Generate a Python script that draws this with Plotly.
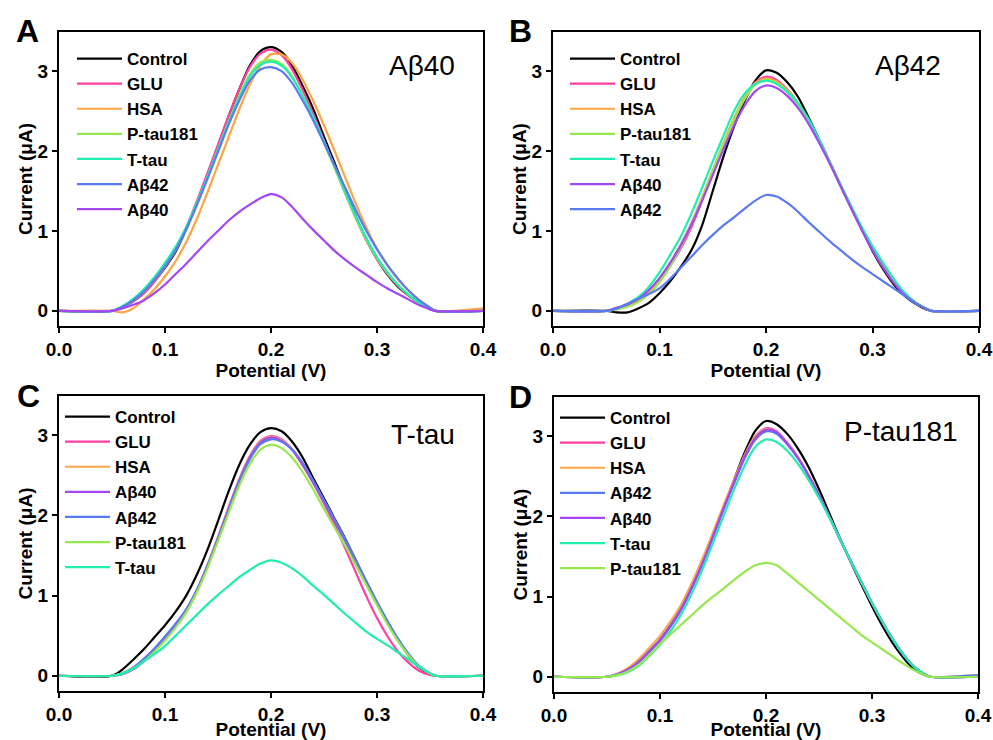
import plotly.graph_objects as go

# Potential (V) sampling grid shared by every curve
POTENTIAL = [0, 0.05, 0.06, 0.07, 0.08, 0.09, 0.10, 0.11, 0.12, 0.13, 0.14, 0.15, 0.16,
             0.17, 0.18, 0.19, 0.20, 0.21, 0.22, 0.23, 0.24, 0.25, 0.26, 0.27, 0.28,
             0.29, 0.30, 0.31, 0.32, 0.33, 0.34, 0.35, 0.355, 0.40]

# ---- Panel A (Aβ40 sensor), current in µA ----
A_CONTROL = [0, 0, 0.05, 0.12, 0.22, 0.37, 0.54, 0.74, 1.02, 1.35, 1.70, 2.06, 2.43, 2.77, 3.07, 3.25, 3.30,
             3.24, 3.07, 2.81, 2.52, 2.18, 1.85, 1.51, 1.18, 0.89, 0.65, 0.45, 0.30, 0.19, 0.10, 0.02, 0, 0]
A_GLU = [0, 0, 0.05, 0.12, 0.22, 0.37, 0.55, 0.76, 1.04, 1.37, 1.72, 2.08, 2.44, 2.77, 3.05, 3.22, 3.27,
         3.20, 3.02, 2.76, 2.46, 2.13, 1.80, 1.47, 1.16, 0.88, 0.65, 0.46, 0.31, 0.19, 0.10, 0.03, 0, 0]
A_HSA = [0, 0, -0.02, 0.03, 0.14, 0.27, 0.43, 0.62, 0.86, 1.15, 1.48, 1.83, 2.17, 2.52, 2.83, 3.07, 3.21,
         3.21, 3.10, 2.89, 2.62, 2.32, 2.00, 1.67, 1.34, 1.04, 0.78, 0.57, 0.39, 0.25, 0.13, 0.04, 0, 0.03]
A_PTAU = [0, 0, 0.05, 0.13, 0.24, 0.39, 0.56, 0.76, 1.02, 1.33, 1.67, 2.02, 2.37, 2.69, 2.96, 3.11, 3.14,
          3.09, 2.93, 2.69, 2.41, 2.10, 1.79, 1.47, 1.16, 0.89, 0.66, 0.47, 0.32, 0.20, 0.10, 0.03, 0, 0]
A_TTAU = [0, 0, 0.06, 0.15, 0.27, 0.42, 0.60, 0.80, 1.05, 1.35, 1.68, 2.02, 2.36, 2.67, 2.93, 3.08, 3.12,
          3.07, 2.92, 2.69, 2.42, 2.12, 1.81, 1.49, 1.18, 0.91, 0.67, 0.48, 0.32, 0.20, 0.10, 0.03, 0, 0]
A_AB42 = [0, 0, 0.05, 0.13, 0.24, 0.39, 0.56, 0.76, 1.02, 1.32, 1.65, 1.99, 2.33, 2.63, 2.88, 3.02, 3.05,
          3.00, 2.85, 2.63, 2.38, 2.10, 1.82, 1.54, 1.26, 1.00, 0.77, 0.57, 0.40, 0.25, 0.13, 0.04, 0, 0]
A_AB40 = [0, 0, 0.03, 0.075, 0.13, 0.22, 0.33, 0.46, 0.59, 0.73, 0.87, 1.00, 1.13, 1.24, 1.33, 1.41, 1.46,
          1.42, 1.30, 1.15, 1.01, 0.88, 0.75, 0.64, 0.54, 0.45, 0.36, 0.28, 0.21, 0.14, 0.07, 0.02, 0, 0]

# ---- Panel B (Aβ42 sensor) ----
B_CONTROL = [0, 0, -0.02, -0.02, 0.03, 0.10, 0.22, 0.37, 0.55, 0.76, 1.07, 1.50, 1.93, 2.31, 2.63, 2.88, 3.01,
             2.98, 2.86, 2.68, 2.42, 2.14, 1.86, 1.57, 1.30, 1.02, 0.75, 0.52, 0.33, 0.19, 0.09, 0.02, 0, 0]
B_GLU = [0, 0, 0.02, 0.06, 0.12, 0.22, 0.37, 0.56, 0.78, 1.05, 1.38, 1.73, 2.08, 2.40, 2.67, 2.86, 2.93,
         2.89, 2.77, 2.60, 2.38, 2.12, 1.85, 1.57, 1.29, 1.02, 0.77, 0.55, 0.36, 0.21, 0.10, 0.03, 0, 0]
B_HSA = [0, 0, 0.03, 0.07, 0.14, 0.25, 0.40, 0.60, 0.83, 1.10, 1.42, 1.76, 2.10, 2.41, 2.67, 2.85, 2.91,
         2.87, 2.76, 2.59, 2.38, 2.13, 1.86, 1.58, 1.30, 1.03, 0.79, 0.57, 0.38, 0.22, 0.11, 0.03, 0, 0]
B_PTAU = [0, 0, 0.02, 0.05, 0.11, 0.21, 0.36, 0.56, 0.80, 1.08, 1.40, 1.74, 2.08, 2.39, 2.65, 2.83, 2.89,
          2.85, 2.74, 2.57, 2.36, 2.11, 1.84, 1.56, 1.28, 1.01, 0.77, 0.55, 0.36, 0.21, 0.10, 0.03, 0, 0]
B_TTAU = [0, 0, 0.03, 0.09, 0.17, 0.30, 0.48, 0.70, 0.93, 1.22, 1.54, 1.87, 2.19, 2.50, 2.72, 2.84, 2.88,
          2.84, 2.74, 2.60, 2.40, 2.14, 1.86, 1.58, 1.31, 1.05, 0.81, 0.60, 0.40, 0.23, 0.11, 0.03, 0, 0]
B_AB40 = [0, 0, 0.04, 0.08, 0.15, 0.26, 0.41, 0.60, 0.82, 1.08, 1.38, 1.70, 2.02, 2.32, 2.57, 2.75, 2.82,
          2.79, 2.69, 2.54, 2.34, 2.10, 1.84, 1.56, 1.28, 1.01, 0.76, 0.54, 0.35, 0.20, 0.10, 0.03, 0, 0]
B_AB42 = [0, 0, 0.03, 0.09, 0.15, 0.21, 0.28, 0.40, 0.54, 0.68, 0.82, 0.95, 1.07, 1.17, 1.28, 1.38, 1.45,
          1.43, 1.35, 1.24, 1.11, 0.99, 0.87, 0.76, 0.65, 0.55, 0.46, 0.37, 0.28, 0.19, 0.10, 0.03, 0, 0]

# ---- Panel C (T-tau sensor) ----
C_CONTROL = [0, 0, 0.08, 0.20, 0.33, 0.48, 0.63, 0.80, 1.00, 1.26, 1.57, 1.93, 2.30, 2.63, 2.88, 3.04, 3.09,
             3.05, 2.92, 2.72, 2.46, 2.21, 1.96, 1.71, 1.44, 1.17, 0.91, 0.67, 0.44, 0.25, 0.10, 0.02, 0, 0]
C_GLU = [0, 0, 0.03, 0.10, 0.20, 0.33, 0.48, 0.64, 0.82, 1.07, 1.38, 1.73, 2.10, 2.45, 2.74, 2.93, 2.99,
         2.95, 2.82, 2.62, 2.40, 2.15, 1.88, 1.59, 1.29, 0.99, 0.72, 0.49, 0.30, 0.16, 0.06, 0.01, 0, 0]
C_HSA = [0, 0, 0.03, 0.10, 0.20, 0.33, 0.47, 0.63, 0.81, 1.06, 1.37, 1.72, 2.09, 2.44, 2.73, 2.92, 2.98,
         2.94, 2.83, 2.65, 2.42, 2.18, 1.94, 1.69, 1.43, 1.17, 0.91, 0.67, 0.45, 0.26, 0.11, 0.03, 0, 0]
C_AB40 = [0, 0, 0.02, 0.08, 0.18, 0.31, 0.46, 0.62, 0.80, 1.05, 1.36, 1.71, 2.08, 2.43, 2.72, 2.91, 2.97,
          2.93, 2.82, 2.64, 2.41, 2.17, 1.93, 1.68, 1.42, 1.16, 0.90, 0.66, 0.44, 0.25, 0.11, 0.03, 0, 0]
C_AB42 = [0, 0, 0.03, 0.10, 0.21, 0.34, 0.49, 0.65, 0.83, 1.07, 1.37, 1.71, 2.07, 2.42, 2.70, 2.89, 2.95,
          2.92, 2.82, 2.65, 2.43, 2.19, 1.95, 1.70, 1.44, 1.18, 0.92, 0.68, 0.46, 0.27, 0.12, 0.03, 0, 0]
C_PTAU = [0, 0, 0.03, 0.09, 0.18, 0.30, 0.44, 0.60, 0.79, 1.04, 1.34, 1.68, 2.03, 2.37, 2.64, 2.82, 2.88,
          2.84, 2.72, 2.54, 2.32, 2.08, 1.85, 1.62, 1.38, 1.13, 0.88, 0.64, 0.43, 0.25, 0.11, 0.03, 0, 0]
C_TTAU = [0, 0, 0.03, 0.09, 0.18, 0.27, 0.37, 0.50, 0.63, 0.76, 0.89, 1.01, 1.12, 1.23, 1.32, 1.40, 1.44,
          1.41, 1.34, 1.24, 1.12, 1.01, 0.89, 0.77, 0.66, 0.55, 0.46, 0.38, 0.29, 0.20, 0.11, 0.03, 0, 0]

# ---- Panel D (P-tau181 sensor) ----
D_CONTROL = [0, 0, 0.03, 0.09, 0.19, 0.32, 0.46, 0.64, 0.85, 1.12, 1.42, 1.76, 2.11, 2.46, 2.80, 3.07, 3.19,
             3.15, 3.03, 2.85, 2.62, 2.34, 2.03, 1.72, 1.43, 1.15, 0.88, 0.63, 0.41, 0.23, 0.09, 0.02, 0, 0]
D_GLU = [0, 0, 0.03, 0.09, 0.19, 0.32, 0.46, 0.64, 0.85, 1.12, 1.42, 1.76, 2.11, 2.44, 2.76, 3.00, 3.10,
         3.06, 2.92, 2.74, 2.52, 2.27, 1.99, 1.71, 1.44, 1.18, 0.92, 0.68, 0.46, 0.27, 0.12, 0.03, 0, 0]
D_HSA = [0, 0, 0.04, 0.11, 0.22, 0.36, 0.51, 0.69, 0.90, 1.17, 1.47, 1.80, 2.14, 2.46, 2.77, 3.00, 3.09,
         3.05, 2.92, 2.74, 2.52, 2.27, 1.99, 1.71, 1.44, 1.18, 0.92, 0.68, 0.46, 0.27, 0.12, 0.03, 0, 0.02]
D_AB42 = [0, 0, 0.03, 0.09, 0.19, 0.32, 0.46, 0.64, 0.85, 1.11, 1.41, 1.74, 2.09, 2.42, 2.73, 2.96, 3.06,
          3.03, 2.90, 2.73, 2.51, 2.26, 1.99, 1.71, 1.44, 1.18, 0.92, 0.68, 0.46, 0.27, 0.12, 0.03, 0, 0.02]
D_AB40 = [0, 0, 0.03, 0.09, 0.18, 0.31, 0.45, 0.63, 0.84, 1.11, 1.41, 1.75, 2.10, 2.43, 2.75, 2.98, 3.08,
          3.05, 2.91, 2.73, 2.51, 2.26, 1.99, 1.71, 1.44, 1.18, 0.92, 0.68, 0.46, 0.27, 0.12, 0.03, 0, 0]
D_TTAU = [0, 0, 0.02, 0.06, 0.14, 0.26, 0.40, 0.57, 0.78, 1.04, 1.34, 1.67, 2.01, 2.34, 2.64, 2.87, 2.96,
          2.93, 2.82, 2.66, 2.46, 2.23, 1.98, 1.71, 1.44, 1.18, 0.92, 0.68, 0.46, 0.27, 0.12, 0.03, 0, 0]
D_PTAU = [0, 0, 0.02, 0.07, 0.15, 0.27, 0.41, 0.53, 0.65, 0.77, 0.89, 1.00, 1.10, 1.21, 1.31, 1.39, 1.42,
          1.39, 1.29, 1.18, 1.07, 0.96, 0.85, 0.74, 0.63, 0.52, 0.43, 0.34, 0.25, 0.16, 0.08, 0.02, 0, 0]

# Series colours
COLORS = {
    "Control": "#000000",
    "GLU": "#FF3FA2",
    "HSA": "#FFA445",
    "P-tau181": "#97E84F",
    "T-tau": "#1FEFAE",
    "Aβ42": "#5A7AF2",
    "Aβ40": "#A347F5",
}

# Panel definitions: (letter, target label, legend order with data)
PANELS = [
    ("A", "Aβ40", [("Control", A_CONTROL), ("GLU", A_GLU), ("HSA", A_HSA), ("P-tau181", A_PTAU),
                   ("T-tau", A_TTAU), ("Aβ42", A_AB42), ("Aβ40", A_AB40)]),
    ("B", "Aβ42", [("Control", B_CONTROL), ("GLU", B_GLU), ("HSA", B_HSA), ("P-tau181", B_PTAU),
                   ("T-tau", B_TTAU), ("Aβ40", B_AB40), ("Aβ42", B_AB42)]),
    ("C", "T-tau", [("Control", C_CONTROL), ("GLU", C_GLU), ("HSA", C_HSA), ("Aβ40", C_AB40),
                    ("Aβ42", C_AB42), ("P-tau181", C_PTAU), ("T-tau", C_TTAU)]),
    ("D", "P-tau181", [("Control", D_CONTROL), ("GLU", D_GLU), ("HSA", D_HSA), ("Aβ42", D_AB42),
                       ("Aβ40", D_AB40), ("T-tau", D_TTAU), ("P-tau181", D_PTAU)]),
]

W, H = 993, 740
FONT = "Liberation Sans, Arial, sans-serif"


def px_x(p):
    return p / W


def px_y(p):
    return 1 - p / H


# window-pixel geometry of the four plot boxes: (left, right, top, bottom)
BOXES = [(59, 483, 32, 326), (553, 979, 32, 326), (59, 483, 396, 691), (554, 978, 397, 692)]
LEGEND_POS = [(72, 41), (565, 41), (60, 399), (555, 400)]
LETTER_POS = [(27, 31), (520, 31), (28, 396), (520, 397)]
LABEL_POS = [(422, 66), (908, 66), (423, 434), (901, 431)]

fig = go.Figure()
layout = dict(
    width=W, height=H, autosize=False,
    margin=dict(l=0, r=0, t=0, b=0, pad=0, autoexpand=False),
    paper_bgcolor="white", plot_bgcolor="white",
    font=dict(family=FONT, color="black"),
    annotations=[],
)

for i, (letter, label, series) in enumerate(PANELS):
    n = "" if i == 0 else str(i + 1)
    leg = "legend" if i == 0 else f"legend{i + 1}"
    for name, vals in series:
        fig.add_trace(go.Scatter(
            x=POTENTIAL, y=vals, name=name, mode="lines",
            line=dict(color=COLORS[name], width=2.2, shape="spline", smoothing=0.8),
            xaxis=f"x{n}", yaxis=f"y{n}", legend=leg,
        ))
    l, r, t, b = BOXES[i]
    ax_common = dict(
        showline=True, linewidth=2, linecolor="black", mirror=True,
        ticks="outside", ticklen=5, tickwidth=2, tickcolor="black",
        showgrid=False, zeroline=False, automargin=False,
        tickfont=dict(family=FONT, size=19, weight="bold"),
        title_font=dict(family=FONT, size=19, weight="bold"),
    )
    layout[f"xaxis{n}"] = dict(
        ax_common, domain=[px_x(l), px_x(r)], range=[0, 0.4], dtick=0.1, tick0=0,
        tickformat=".1f", anchor=f"y{n}",
        title=dict(text="Potential (V)", standoff=2),
    )
    layout[f"yaxis{n}"] = dict(
        ax_common, domain=[px_y(b), px_y(t)], range=[-0.19, 3.49],
        tickvals=[0, 1, 2, 3], anchor=f"x{n}",
        title=dict(text="Current (μA)", standoff=0),
    )
    lx, ly = LEGEND_POS[i]
    layout[leg] = dict(
        x=px_x(lx), y=px_y(ly), xanchor="left", yanchor="top",
        bgcolor="rgba(0,0,0,0)", borderwidth=0,
        font=dict(family=FONT, size=17, weight="bold"),
        itemwidth=45, tracegroupgap=0,
    )
    qx, qy = LETTER_POS[i]
    layout["annotations"].append(dict(
        text=f"<b>{letter}</b>", x=px_x(qx), y=px_y(qy), xref="paper", yref="paper",
        showarrow=False, font=dict(family=FONT, size=32), xanchor="center", yanchor="middle",
    ))
    qx, qy = LABEL_POS[i]
    layout["annotations"].append(dict(
        text=label, x=px_x(qx), y=px_y(qy), xref="paper", yref="paper",
        showarrow=False, font=dict(family=FONT, size=28), xanchor="center", yanchor="middle",
    ))

fig.update_layout(**layout)
# remove the default 8px page margin so the 993x740 figure fills the window exactly
fig.write_html(
    "out.html",
    config={"displayModeBar": False},
    post_script="document.body.style.margin='0';document.body.style.overflow='hidden';",
)
